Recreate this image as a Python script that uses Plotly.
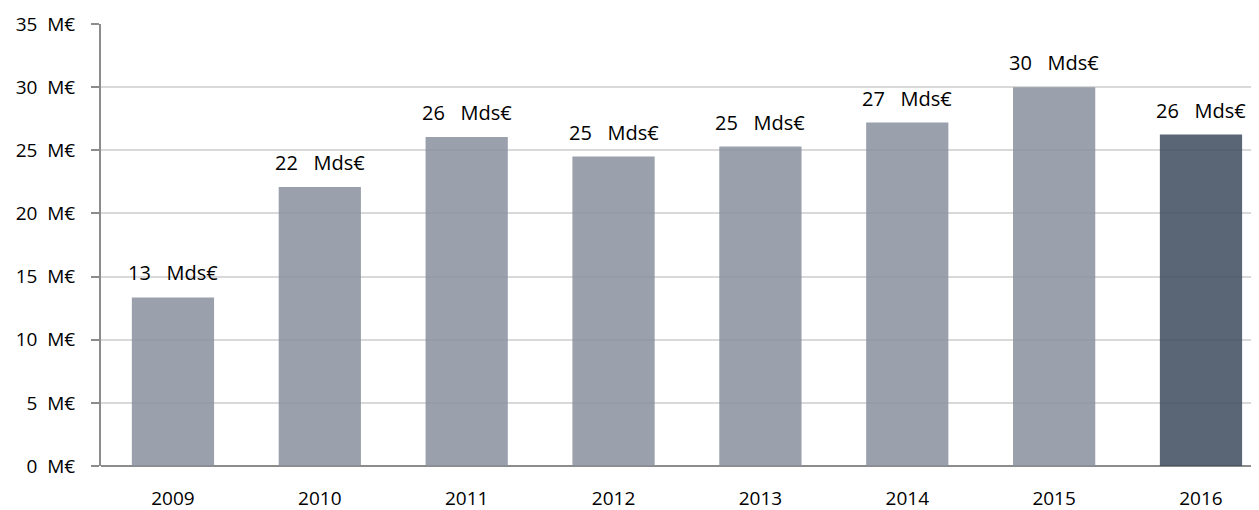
import plotly.graph_objects as go

years = ["2009", "2010", "2011", "2012", "2013", "2014", "2015", "2016"]
amounts = [13.35, 22.1, 26.05, 24.5, 25.3, 27.2, 30.0, 26.25]
labels = ["13 Mds€", "22 Mds€", "26 Mds€", "25 Mds€", "25 Mds€", "27 Mds€", "30 Mds€", "26 Mds€"]
y_ticks = [0, 5, 10, 15, 20, 25, 30, 35]
y_tick_text = ["%d\u00a0\u00a0M€" % v for v in y_ticks]

LIGHT = "#88909e"
DARK = "#3d4a5e"
FONT = "Open Sans"

colors = [LIGHT] * (len(years) - 1) + [DARK]

fig = go.Figure()
fig.add_trace(go.Bar(
    x=years,
    y=amounts,
    marker=dict(color=colors, opacity=0.85, line=dict(width=0)),
    width=0.56,
    hoverinfo="x+y",
))

# value labels above the bars (x as category index, "2009" would be read as a number)
for i, (val, lab) in enumerate(zip(amounts, labels)):
    fig.add_annotation(
        x=i, y=val, xref="x", yref="y",
        text=lab.replace(" ", "\u00a0\u00a0\u00a0"),
        showarrow=False, yanchor="bottom", yshift=9,
        font=dict(family=FONT, size=20, color="#000000"),
    )

# page body has an 8px margin, so margins are shifted by 8
fig.update_layout(
    width=1259, height=510,
    margin=dict(l=93, r=8, t=16, b=52),
    paper_bgcolor="white",
    plot_bgcolor="white",
    showlegend=False,
    font=dict(family=FONT, size=19, color="#000000"),
    xaxis=dict(
        type="category",
        range=[-0.49, 7.395],
        automargin=False,
        showgrid=False,
        showline=False,
        ticks="",
        ticklabelstandoff=19,
        tickfont=dict(family=FONT, size=19, color="#000000"),
        zeroline=False,
    ),
    yaxis=dict(
        range=[0, 35],
        automargin=False,
        tickvals=y_ticks,
        ticktext=y_tick_text,
        showgrid=True,
        gridcolor="#d9d9d9",
        gridwidth=2,
        showline=True,
        linecolor="#8c8c8c",
        linewidth=2,
        ticks="outside",
        ticklen=8,
        tickwidth=2,
        tickcolor="#8c8c8c",
        ticklabelstandoff=12,
        zeroline=True,
        zerolinecolor="#8c8c8c",
        zerolinewidth=2,
        tickfont=dict(family=FONT, size=19, color="#000000"),
    ),
)

fig.write_html("out.html")
